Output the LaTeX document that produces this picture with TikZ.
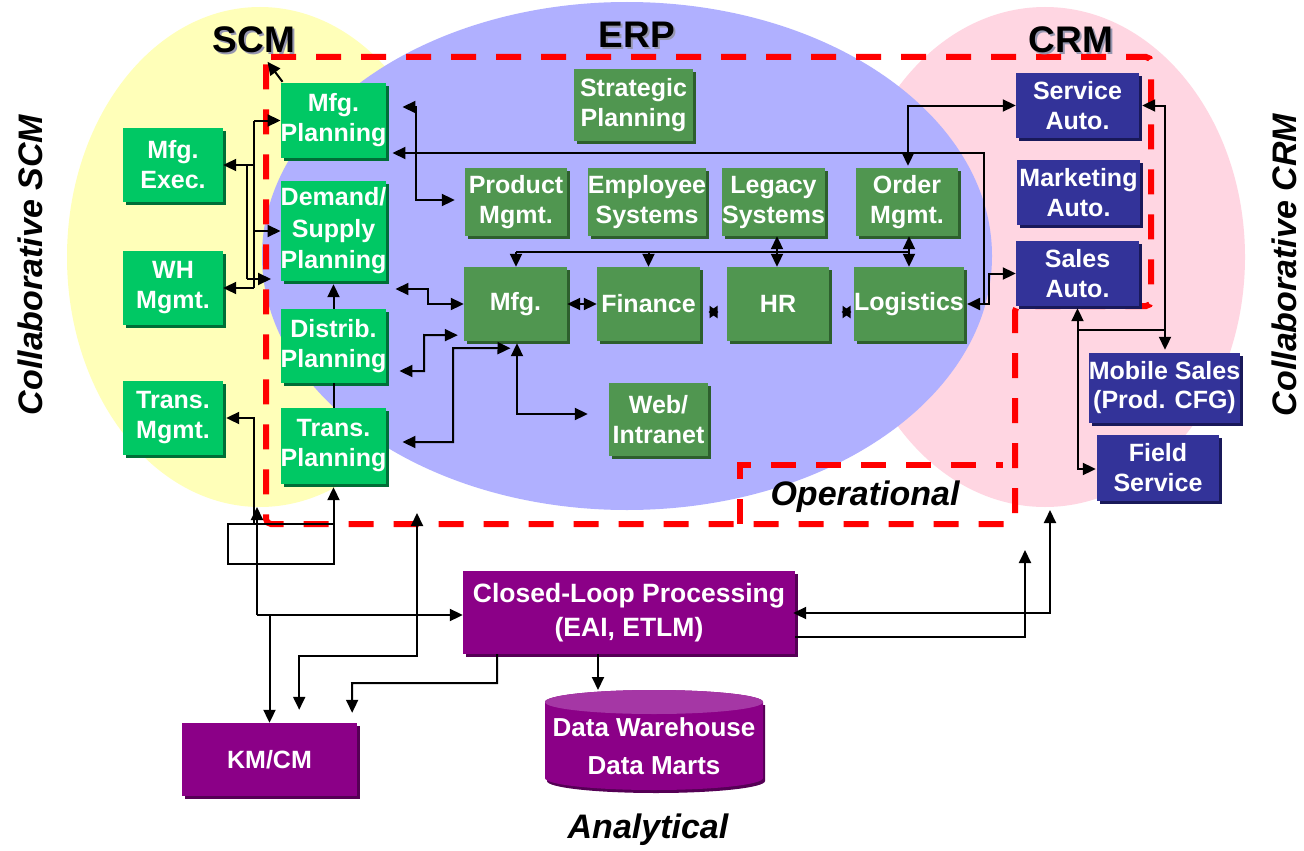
\documentclass[tikz,border=0pt]{standalone}
\usepackage{fontspec}
\setmainfont{Liberation Sans}
\usetikzlibrary{arrows.meta,calc,shadows}

\definecolor{scmfill}{RGB}{0,200,100}
\definecolor{scmshade}{RGB}{0,110,55}
\definecolor{erpfill}{RGB}{80,150,80}
\definecolor{erpshade}{RGB}{45,95,45}
\definecolor{crmfill}{RGB}{51,51,153}
\definecolor{crmshade}{RGB}{25,25,90}
\definecolor{anafill}{RGB}{139,0,135}
\definecolor{anashade}{RGB}{85,0,85}
\definecolor{anatop}{RGB}{165,55,165}
\definecolor{scmzone}{RGB}{255,255,185}
\definecolor{erpzone}{RGB}{176,176,255}
\definecolor{crmzone}{RGB}{255,214,226}
\definecolor{opline}{RGB}{255,0,0}
\definecolor{headshade}{RGB}{150,150,175}

\begin{document}
\begin{tikzpicture}[x=1pt,y=-1pt,
  unit/.style={rectangle, inner sep=0pt, align=center, text=white,
    font=\fontsize{25}{30}\selectfont\bfseries},
  scmbox/.style={unit, fill=scmfill,
    general shadow={fill=scmshade, shadow xshift=3pt, shadow yshift=-3pt}},
  erpbox/.style={unit, fill=erpfill,
    general shadow={fill=erpshade, shadow xshift=3pt, shadow yshift=-3pt}},
  crmbox/.style={unit, fill=crmfill,
    general shadow={fill=crmshade, shadow xshift=3pt, shadow yshift=-3pt}},
  anabox/.style={unit, fill=anafill,
    general shadow={fill=anashade, shadow xshift=3pt, shadow yshift=-3pt}},
  zonehead/.style={font=\fontsize{37}{40}\selectfont\bfseries, inner sep=0pt},
  sidelabel/.style={font=\fontsize{34}{36}\selectfont\bfseries\itshape, inner sep=0pt},
  conn/.style={line width=2pt, black},
  onearrow/.style={conn, -{Triangle[length=13pt,width=12pt]}},
  dualarrow/.style={conn, {Triangle[length=13pt,width=12pt]}-{Triangle[length=13pt,width=12pt]}},
  tinyarrow/.style={conn, {Triangle[length=9pt,width=12pt]}-{Triangle[length=9pt,width=12pt]}},
  opborder/.style={opline, line width=6pt, dash pattern=on 25pt off 20pt}
  ]

\useasboundingbox (0,0) rectangle (1304,851);
\fill[white] (0,0) rectangle (1304,851);

% the three application domains
\fill[scmzone] (260,257) ellipse[x radius=193, y radius=250];
\fill[crmzone] (1045,257) ellipse[x radius=200, y radius=250];
\fill[erpzone] (627,256) ellipse[x radius=365, y radius=254];

% operational boundary
\draw[opborder, rounded corners=5pt] (266,57) -- (1151,57) -- (1151,306) -- (1015,306)
  -- (1015,524) -- (266,524) -- cycle;
\draw[opborder] (740,524) -- (740,465) -- (1003,465);

% SCM
\node[scmbox, minimum width=100, minimum height=74] (mfgexec) at (173,165) {Mfg.\\Exec.};
\node[scmbox, minimum width=100, minimum height=74] (whmgmt) at (173,288) {WH\\Mgmt.};
\node[scmbox, minimum width=100, minimum height=74] (transmgmt) at (173,418) {Trans.\\Mgmt.};
\node[scmbox, minimum width=101, minimum height=75] (mfgplan) at (333.5,120.5) {Mfg.\\Planning};
\node[scmbox, minimum width=101, minimum height=100,
  font=\fontsize{25}{31.5}\selectfont\bfseries] (demand) at (333.5,231) {Demand/\\Supply\\Planning};
\node[scmbox, minimum width=101, minimum height=74] (distrib) at (333.5,346) {Distrib.\\Planning};
\node[scmbox, minimum width=101, minimum height=76] (transplan) at (333.5,446) {Trans.\\Planning};

% ERP
\node[erpbox, minimum width=119, minimum height=72] (strategic) at (633.5,105) {Strategic\\Planning};
\node[erpbox, minimum width=102, minimum height=68] (product) at (516,202) {Product\\Mgmt.};
\node[erpbox, minimum width=114, minimum height=68] (employee) at (647,202) {Employee\\Systems};
\node[erpbox, minimum width=103, minimum height=68] (legacy) at (773.5,202) {Legacy\\Systems};
\node[erpbox, minimum width=102, minimum height=68] (order) at (907,202) {Order\\Mgmt.};
\node[erpbox, minimum width=103, minimum height=74] (mfg) at (515.5,304) {Mfg.};
\node[erpbox, minimum width=103, minimum height=74] (finance) at (648.5,304) {Finance};
\node[erpbox, minimum width=102, minimum height=74] (hr) at (778,304) {HR};
\node[erpbox, minimum width=106, minimum height=74] (logistics) at (909,304) {Logistics};
\node[erpbox, minimum width=99, minimum height=73] (web) at (658.5,419.5) {Web/\\Intranet};

% CRM
\node[crmbox, minimum width=123, minimum height=65] (service) at (1077.5,105.5) {Service\\Auto.};
\node[crmbox, minimum width=123, minimum height=65] (marketing) at (1078.5,192.5) {Marketing\\Auto.};
\node[crmbox, minimum width=123, minimum height=65] (sales) at (1077.5,273.5) {Sales\\Auto.};
\node[crmbox, minimum width=151, minimum height=70,
  font=\fontsize{25}{29}\selectfont\bfseries] (mobile) at (1164.5,388) {Mobile Sales\\(Prod. CFG)};
\node[crmbox, minimum width=122, minimum height=66] (field) at (1158,468) {Field\\Service};

% analytical side
\node[anabox, minimum width=332, minimum height=83,
  font=\fontsize{26.5}{34}\selectfont\bfseries] (closed) at (629,612.5) {Closed-Loop Processing\\(EAI, ETLM)};
\node[anabox, minimum width=175, minimum height=73] (kmcm) at (269.5,759.5) {KM/CM};

% data warehouse drum
\fill[anashade] (547,705) -- (547,781) arc[start angle=180, end angle=0, x radius=109, y radius=12]
  -- (765,705) -- cycle;
\fill[anafill] (545,702) -- (545,778) arc[start angle=180, end angle=0, x radius=109, y radius=12]
  -- (763,702) arc[start angle=0, end angle=-180, x radius=109, y radius=12] -- cycle;
\fill[anatop] (654,702) ellipse[x radius=109, y radius=12];
\node[unit, minimum width=218, minimum height=60,
  font=\fontsize{26}{38}\selectfont\bfseries] (dw) at (654,746) {Data Warehouse\\Data Marts};
\coordinate (dwtop) at (598,690);

% SCM links
\draw[conn] (254,121) -- (254,288);
\draw[onearrow] (mfgplan.west -| 254,0) -- (mfgplan.west);
\draw[onearrow] (demand.west -| 254,0) -- (demand.west);
\draw[onearrow] (mfgexec.east -| 254,0) -- (mfgexec.east);
\draw[onearrow] (whmgmt.east -| 254,0) -- (whmgmt.east);
\draw[conn] (mfgexec.east -| 247,0) -- (247,279);
\coordinate (busend) at (271,279);
\draw[onearrow] (247,279) -- (busend);
\draw[onearrow] ($(mfgplan.north west)+(2,-1)$) -- ++(-15,-20);
\draw[conn] (transplan.north) -- (distrib.south);
\draw[onearrow] (distrib.north) -- ($(demand.south)+(0,3)$);

% SCM to ERP links
\draw[dualarrow] ($(mfgplan.east)+(16,-13.5)$) -| (416,200) -- ($(product.west)+(-10,-2)$);
\draw[dualarrow] ($(mfgplan.east)+(6,32.5)$) -- (984,153) -- (984,304) -- ($(logistics.east)+(3,0)$);
\draw[dualarrow] ($(demand.east)+(9,58)$) -| (428,304) -- (mfg.west);
\draw[dualarrow] ($(distrib.east)+(13,25)$) -| (424,335) -- ($(mfg.south west)+(-6,-6)$);
\draw[dualarrow] ($(transplan.east)+(16,-4)$) -| (453,348) -- ($(mfg.south)+(-5,7)$);

% ERP links
\draw[conn] (516,252) -- (909,252);
\draw[onearrow] (516,252) -- ($(mfg.north)+(0.5,0)$);
\draw[onearrow] (finance.north |- 0,252) -- (finance.north);
\draw[onearrow] (777,252) -- (legacy.south -| 777,0);
\draw[onearrow] (777,252) -- (hr.north -| 777,0);
\draw[onearrow] (909,252) -- (order.south -| 909,0);
\draw[onearrow] (909,252) -- (logistics.north);
\draw[dualarrow] (mfg.east) -- (finance.west);
\draw[tinyarrow] (708.5,312) -- (718.5,312);
\draw[tinyarrow] (841.5,312) -- (851.5,312);
\draw[dualarrow] ($(mfg.south)+(1.5,2)$) |- ($(web.west)+(-21,-5.5)$);

% ERP to CRM links
\draw[onearrow] (984,304) -- (989,304) |- (sales.west);
\draw[dualarrow] ($(order.north)+(1,-2)$) |- (service.west);
\draw[dualarrow] ($(service.east)+(3,0)$) -| ($(mobile.north)+(0.5,-3)$);
\draw[dualarrow] ($(sales.south)+(0,2)$) |- ($(field.west)+(-1,1)$);
\draw[conn] (1077.5,330) -- (1165,330);

% closed-loop links
\draw[onearrow] (254,524) |- ($(transmgmt.east)+(3,0)$);
\draw[conn] (228,524) rectangle (333.5,564);
\draw[onearrow] (333.5,564) -- ($(transplan.south)+(0,3)$);
\coordinate (oploop) at (257,507);
\draw[onearrow] (257,615) -- (oploop);
\draw[onearrow] (257,615) -- ($(closed.west)+(0,2.5)$);
\draw[onearrow] (257,615) -| (kmcm.north);
\coordinate (opmid) at (417,513);
\draw[dualarrow] (opmid) -- (417,656) -| ($(kmcm.north east)+(-58,-13)$);
\draw[onearrow] ($(closed.south)+(-132,0)$) |- (352,683) -- ($(kmcm.north east)+(-5,-10)$);
\draw[onearrow] ($(closed.south)+(-31,0)$) -- (dwtop);
\coordinate (crmbase) at (1050,510);
\coordinate (opbase) at (1025,550);
\draw[dualarrow] ($(closed.east)+(-2,0.5)$) -| (crmbase);
\draw[onearrow] ($(closed.east)+(0,24.5)$) -| (opbase);

% domain headings
\node[zonehead, text=headshade] at (256,42) {SCM};
\node[zonehead] (scmhead) at (254,40) {SCM};
\node[zonehead, text=headshade] at (639,37) {ERP};
\node[zonehead] (erphead) at (637,35) {ERP};
\node[zonehead, text=headshade] at (1073,42) {CRM};
\node[zonehead] (crmhead) at (1071,40) {CRM};

% side labels
\node[sidelabel, rotate=90] (collscm) at (30,265) {Collaborative SCM};
\node[sidelabel, rotate=90] (collcrm) at (1284,265) {Collaborative CRM};
\node[sidelabel] (operational) at (865,497) {Operational};
\node[sidelabel] (analytical) at (648,830) {Analytical};

\end{tikzpicture}
\end{document}
